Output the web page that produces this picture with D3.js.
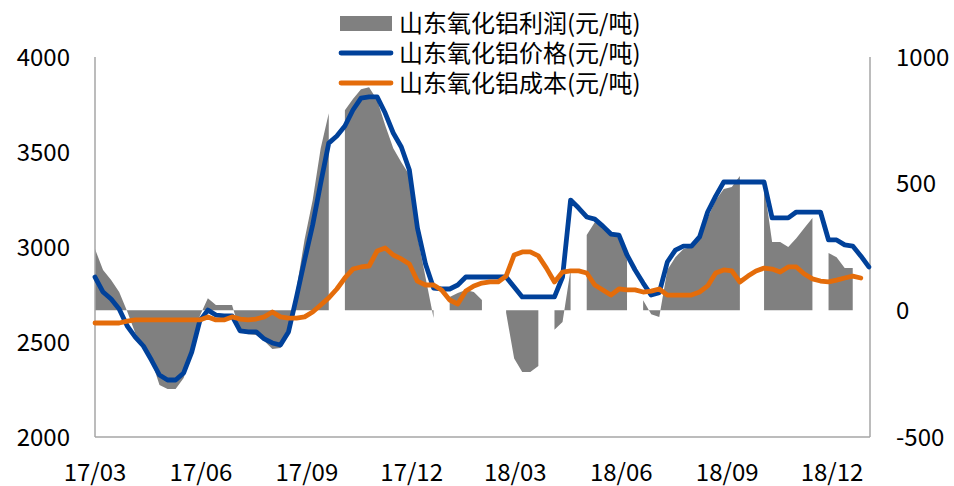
<!DOCTYPE html>
<html><head><meta charset="utf-8">
<script src="https://cdn.jsdelivr.net/npm/d3@7"></script>
<style>
html,body{margin:0;padding:0;background:#fff;}
svg text{font-family:"Noto Sans CJK SC","Noto Sans",sans-serif;fill:#000;}
</style></head>
<body><svg id="c" width="954" height="486"></svg>
<script>
const dates = [
"2017-03-01","2017-03-08","2017-03-15","2017-03-22","2017-03-29","2017-04-05","2017-04-12","2017-04-19","2017-04-26","2017-05-03",
"2017-05-10","2017-05-17","2017-05-24","2017-05-31","2017-06-07","2017-06-14","2017-06-21","2017-06-28","2017-07-05","2017-07-12",
"2017-07-19","2017-07-26","2017-08-02","2017-08-09","2017-08-16","2017-08-23","2017-08-30","2017-09-06","2017-09-13","2017-09-20",
"2017-09-27","2017-10-04","2017-10-11","2017-10-18","2017-10-25","2017-11-01","2017-11-08","2017-11-15","2017-11-22","2017-11-29",
"2017-12-06","2017-12-13","2017-12-20","2017-12-27","2018-01-03","2018-01-10","2018-01-17","2018-01-24","2018-01-31","2018-02-07",
"2018-02-14","2018-02-21","2018-02-28","2018-03-07","2018-03-14","2018-03-21","2018-03-28","2018-04-04","2018-04-11","2018-04-18",
"2018-04-25","2018-05-02","2018-05-09","2018-05-16","2018-05-23","2018-05-30","2018-06-06","2018-06-13","2018-06-20","2018-06-27",
"2018-07-04","2018-07-11","2018-07-18","2018-07-25","2018-08-01","2018-08-08","2018-08-15","2018-08-22","2018-08-29","2018-09-05",
"2018-09-12","2018-09-19","2018-09-26","2018-10-03","2018-10-10","2018-10-17","2018-10-24","2018-10-31","2018-11-07","2018-11-14",
"2018-11-21","2018-11-28","2018-12-05","2018-12-12","2018-12-19","2018-12-26","2019-01-02"];

// 山东氧化铝价格(元/吨) — left axis
const price = [
2842,2763,2726,2674,2584,2526,2479,2405,2326,2300,
2300,2337,2447,2611,2668,2642,2637,2637,2558,2553,
2553,2516,2495,2484,2553,2737,2931,3116,3337,3547,
3584,3637,3721,3784,3790,3790,3705,3600,3526,3405,
3100,2911,2784,2779,2779,2800,2842,2842,2842,2842,
2842,2842,2789,2737,2737,2737,2737,2737,2842,3247,
3205,3158,3147,3110,3068,3063,2958,2879,2810,2747,
2760,2921,2984,3005,3005,3053,3184,3268,3342,3342,
3342,3342,3342,3342,3153,3153,3153,3184,3184,3184,
3184,3037,3037,3011,3005,2953,2895];

// 山东氧化铝成本(元/吨) — left axis
const cost = [
2600,2600,2600,2600,2610,2616,2616,2616,2616,2616,
2616,2616,2616,2616,2632,2616,2616,2632,2621,2616,
2621,2632,2658,2632,2626,2626,2632,2658,2695,2732,
2779,2837,2884,2895,2900,2979,2995,2958,2937,2910,
2820,2800,2800,2774,2721,2700,2768,2795,2810,2816,
2816,2847,2958,2974,2974,2953,2889,2816,2868,2874,
2874,2863,2800,2774,2747,2779,2774,2774,2763,2768,
2779,2747,2747,2747,2747,2763,2795,2863,2879,2874,
2816,2847,2874,2889,2884,2868,2895,2895,2858,2832,
2821,2816,2826,2837,2847,2837,null];

// 山东氧化铝利润(元/吨) — right axis
const profit = [
242,159,120,72,-5,-90,-137,-196,-295,-311,
-311,-267,-168,-22,48,21,21,21,-86,-94,
-97,-121,-153,-149,-66,85,280,435,640,778,
null,790,834,873,881,830,731,640,585,534,
293,131,-30,null,53,68,80,72,41,null,
null,-10,-190,-243,-243,-220,null,-77,-46,160,
null,297,348,333,301,289,199,null,40,-15,
-26,159,210,242,250,285,364,435,479,487,
530,null,null,494,270,270,250,285,325,364,
null,226,210,167,167,null,null];

const xTickDates = ["2017-03-01","2017-06-01","2017-09-01","2017-12-01","2018-03-01","2018-06-01","2018-09-01","2018-12-01"];
const xTickLabels = ["17/03","17/06","17/09","17/12","18/03","18/06","18/09","18/12"];
const leftTicks = [2000,2500,3000,3500,4000];
const rightTicks = [-500,0,500,1000];
const seriesNames = ["山东氧化铝利润(元/吨)","山东氧化铝价格(元/吨)","山东氧化铝成本(元/吨)"];
const colors = {profit:"#808080", price:"#00419A", cost:"#E46C0A", axis:"#A6A6A6"};

const parse = d3.timeParse("%Y-%m-%d");
const rows = dates.map((d,i)=>({date:parse(d), price:price[i], cost:cost[i], profit:profit[i]}));

const L = 95, R = 870, T = 57, B = 437;
const x = d3.scaleTime().domain([parse("2017-03-01"), parse("2019-01-03")]).range([L, R]);
const yL = d3.scaleLinear().domain([2000,4000]).range([B, T]);
const yR = d3.scaleLinear().domain([-500,1000]).range([B, T]);

const svg = d3.select("#c");

// profit area
svg.append("path")
  .datum(rows)
  .attr("fill", colors.profit)
  .attr("d", d3.area().defined(d=>d.profit!=null)
     .x(d=>x(d.date)).y0(yR(0)).y1(d=>yR(d.profit)));

// axes lines
const axisG = svg.append("g");
axisG.append("line").attr("x1",L).attr("x2",L).attr("y1",T).attr("y2",B);
axisG.append("line").attr("x1",R).attr("x2",R).attr("y1",T).attr("y2",B);
axisG.append("line").attr("x1",L).attr("x2",R).attr("y1",B).attr("y2",B);
axisG.selectAll("line").attr("stroke",colors.axis).attr("stroke-width",1.5);

// price line
svg.append("path").datum(rows)
  .attr("fill","none").attr("stroke",colors.price).attr("stroke-width",4.8)
  .attr("stroke-linejoin","round").attr("stroke-linecap","round")
  .attr("d", d3.line().defined(d=>d.price!=null).x(d=>x(d.date)).y(d=>yL(d.price)));

// cost line
svg.append("path").datum(rows)
  .attr("fill","none").attr("stroke",colors.cost).attr("stroke-width",4.8)
  .attr("stroke-linejoin","round").attr("stroke-linecap","round")
  .attr("d", d3.line().defined(d=>d.cost!=null).x(d=>x(d.date)).y(d=>yL(d.cost)));

// tick labels
const fs = 24;
svg.append("g").selectAll("text").data(leftTicks).join("text")
  .attr("x", L-25).attr("y", d=>yL(d)+8.5).attr("text-anchor","end")
  .style("font-size",fs+"px").text(d=>d);
svg.append("g").selectAll("text").data(rightTicks).join("text")
  .attr("x", R+26).attr("y", d=>yR(d)+8.5).attr("text-anchor","start")
  .style("font-size",fs+"px").text(d=>d);
svg.append("g").selectAll("text").data(xTickDates).join("text")
  .attr("x", d=>x(parse(d))).attr("y", 481).attr("text-anchor","middle")
  .style("font-size",fs+"px").text((d,i)=>xTickLabels[i]);

// legend
const lg = svg.append("g");
const ly = [23, 53, 83];
lg.append("rect").attr("x",340).attr("y",ly[0]-7).attr("width",52).attr("height",15).attr("fill",colors.profit);
lg.append("line").attr("x1",341).attr("x2",391).attr("y1",ly[1]).attr("y2",ly[1])
  .attr("stroke",colors.price).attr("stroke-width",4.8).attr("stroke-linecap","round");
lg.append("line").attr("x1",341).attr("x2",391).attr("y1",ly[2]).attr("y2",ly[2])
  .attr("stroke",colors.cost).attr("stroke-width",4.8).attr("stroke-linecap","round");
lg.selectAll("text").data(seriesNames).join("text")
  .attr("x",399).attr("y",(d,i)=>ly[i]+9).style("font-size",fs+"px").text(d=>d);
</script></body></html>
